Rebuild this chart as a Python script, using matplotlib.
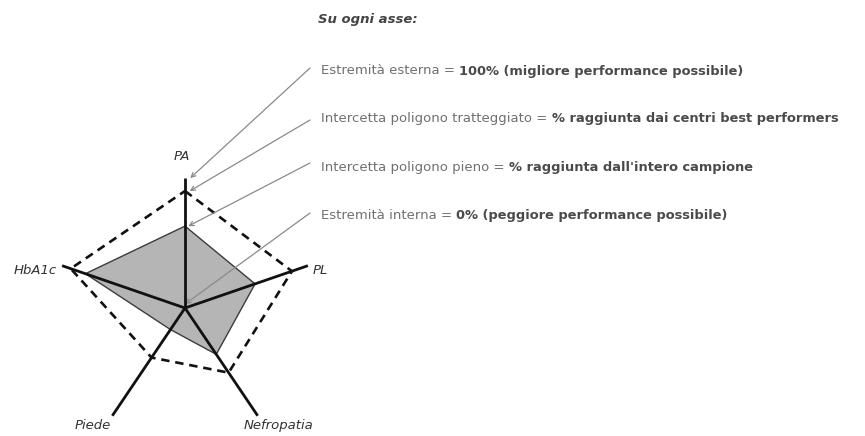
import numpy as np
import matplotlib
matplotlib.use("Agg")
import matplotlib.pyplot as plt

# radar axes (clockwise from top) and values as fraction of best possible
axes_labels = ["PA", "PL", "Nefropatia", "Piede", "HbA1c"]
axes_angles_deg = [90, 19, -56, -124, 161]
whole_sample = [0.63, 0.57, 0.43, 0.20, 0.81]      # poligono pieno
best_performers = [0.90, 0.87, 0.60, 0.46, 0.93]   # poligono tratteggiato

header = "Su ogni asse:"
legend_normal = ["Estremità esterna = ",
                 "Intercetta poligono tratteggiato = ",
                 "Intercetta poligono pieno = ",
                 "Estremità interna = "]
legend_bold = ["100% (migliore performance possibile)",
               "% raggiunta dai centri best performers",
               "% raggiunta dall'intero campione",
               "0% (peggiore performance possibile)"]
# where each explanation arrow points on the PA axis
arrow_targets = [1.0, best_performers[0], whole_sample[0], 0.0]

W, H = 865, 436
fig = plt.figure(figsize=(W / 100, H / 100), dpi=100)
fig.patch.set_facecolor("white")

# polar axes centred on the radar centre (185, 308) px, radius 130 px
cx, cy, R = 185, 308, 130
ax = fig.add_axes([(cx - R) / W, (H - cy - R) / H, 2 * R / W, 2 * R / H],
                  projection="polar")
ax.set_ylim(0, 1)
ax.axis("off")

theta = np.deg2rad(axes_angles_deg)
th_closed = np.append(theta, theta[0])
ws = np.append(whole_sample, whole_sample[0])
bp = np.append(best_performers, best_performers[0])

ax.fill(th_closed, ws, facecolor="#b5b5b5", edgecolor="#3c3c3c", lw=1.0,
        zorder=2, clip_on=False)
ax.plot(th_closed, bp, color="#111111", lw=1.9, dashes=(3.2, 2.2),
        zorder=3, clip_on=False)
for t in theta:
    ax.plot([t, t], [0, 1], color="#111111", lw=2.0, zorder=4,
            clip_on=False, solid_capstyle="butt")

# axis labels
label_pos = {"PA": (182, 157, "center"), "PL": (313, 271, "left"),
             "Nefropatia": (279, 425, "center"), "Piede": (93, 425, "center"),
             "HbA1c": (57, 270, "right")}
for name in axes_labels:
    x, y, ha = label_pos[name]
    fig.text(x / W, 1 - y / H, name, ha=ha, va="center", fontsize=9.5,
             style="italic", color="#333333")

# explanation text
fig.text(318 / W, 1 - 20 / H, header, fontsize=9.5, style="italic",
         weight="bold", color="#444444", va="center")
text_y = [71, 118, 167, 215]
arrow_y = [68, 120, 163, 213]
for i in range(4):
    t1 = fig.text(321 / W, 1 - text_y[i] / H, legend_normal[i], fontsize=9.5,
                  color="#707070", va="center")
    ax.annotate(legend_bold[i], xy=(1, 0.5), xycoords=t1, va="center",
                ha="left", fontsize=9.4, weight="bold", color="#4a4a4a",
                annotation_clip=False)
    ax.annotate("", xy=(np.deg2rad(90) - (0.04 if arrow_targets[i] > 0 else 0),
                        arrow_targets[i] if arrow_targets[i] > 0 else 0.03),
                xycoords="data",
                xytext=(310 / W, 1 - arrow_y[i] / H), textcoords="figure fraction",
                arrowprops=dict(arrowstyle="->", color="#8a8a8a", lw=0.9,
                                shrinkA=0, shrinkB=0, mutation_scale=8),
                annotation_clip=False)

fig.savefig("out.png", dpi=100, facecolor="white")
